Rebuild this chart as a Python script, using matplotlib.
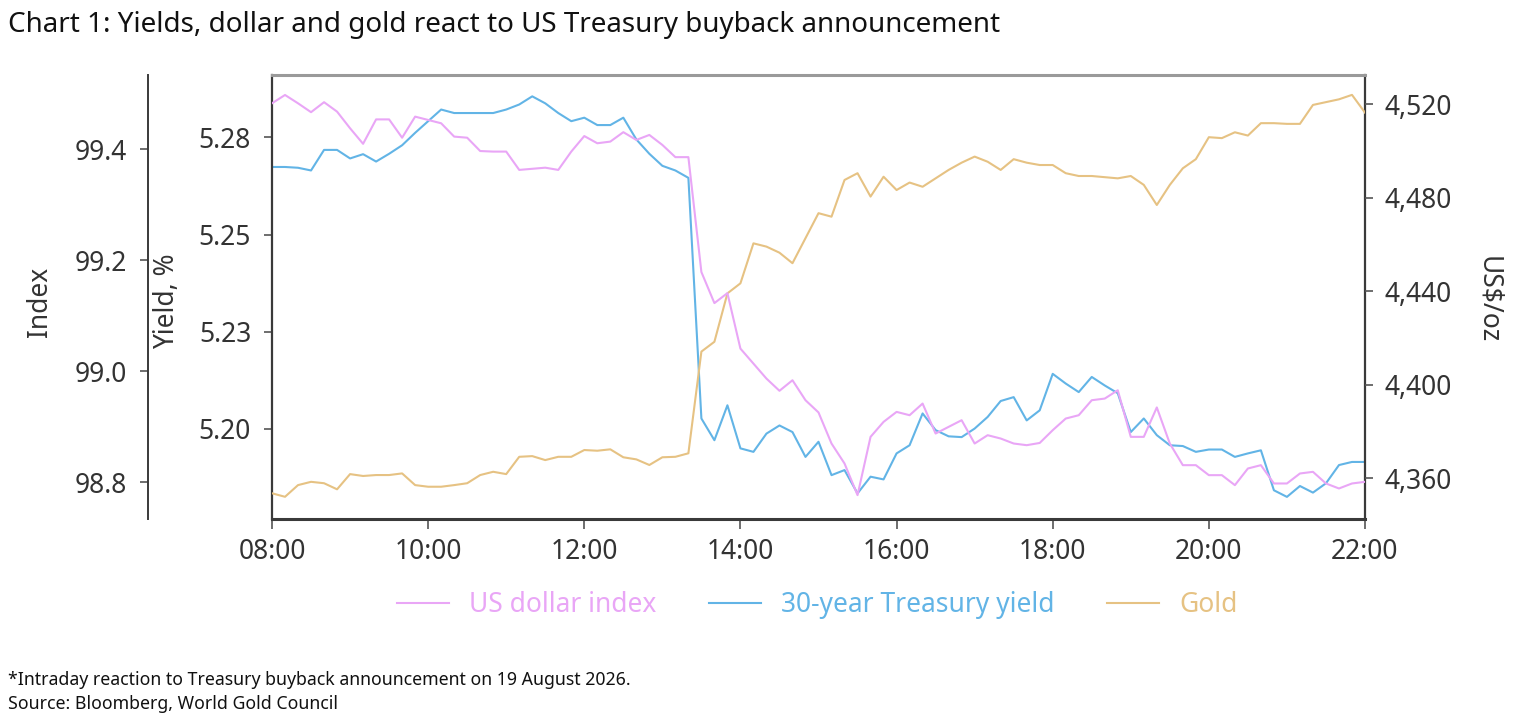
import matplotlib
matplotlib.use("Agg")
import matplotlib.pyplot as plt
import matplotlib.dates as mdates
import pandas as pd

plt.rcParams["font.family"] = ["Noto Sans", "DejaVu Sans"]

# ----- data (10-minute intraday, 19 Aug 2026) -----
times = pd.date_range("2026-08-19 08:00", "2026-08-19 22:00", freq="10min")

dollar_index = [
    99.483, 99.498, 99.483, 99.467, 99.485, 99.468, 99.438, 99.410, 99.454, 99.454,
    99.421, 99.459, 99.453, 99.447, 99.423, 99.421, 99.397, 99.396, 99.396, 99.363,
    99.365, 99.367, 99.363, 99.396, 99.424, 99.411, 99.414, 99.431, 99.417, 99.426,
    99.408, 99.386, 99.386, 99.179, 99.123, 99.141, 99.041, 99.014, 98.987, 98.965,
    98.984, 98.948, 98.926, 98.870, 98.834, 98.777, 98.882, 98.909, 98.927, 98.921,
    98.942, 98.888, 98.900, 98.912, 98.870, 98.885, 98.879, 98.870, 98.867, 98.871,
    98.894, 98.915, 98.921, 98.948, 98.951, 98.966, 98.882, 98.882, 98.935, 98.870,
    98.831, 98.831, 98.813, 98.813, 98.795, 98.825, 98.831, 98.798, 98.798, 98.816,
    98.819, 98.798, 98.789, 98.798, 98.801,
]

yield_30y = [
    5.2674, 5.2674, 5.2672, 5.2665, 5.2718, 5.2718, 5.2696, 5.2707, 5.2688, 5.2708,
    5.2730, 5.2762, 5.2792, 5.2822, 5.2813, 5.2813, 5.2813, 5.2813, 5.2822, 5.2835,
    5.2856, 5.2838, 5.2813, 5.2792, 5.2801, 5.2782, 5.2782, 5.2801, 5.2745, 5.2708,
    5.2677, 5.2665, 5.2646, 5.2026, 5.1970, 5.2060, 5.1949, 5.1940, 5.1987, 5.2008,
    5.1991, 5.1927, 5.1966, 5.1880, 5.1893, 5.1833, 5.1876, 5.1869, 5.1936, 5.1957,
    5.2039, 5.1996, 5.1980, 5.1978, 5.2000, 5.2030, 5.2071, 5.2081, 5.2021, 5.2047,
    5.2141, 5.2116, 5.2094, 5.2133, 5.2111, 5.2091, 5.1991, 5.2026, 5.1983, 5.1957,
    5.1955, 5.1940, 5.1946, 5.1946, 5.1927, 5.1936, 5.1944, 5.1841, 5.1824, 5.1852,
    5.1835, 5.1859, 5.1906, 5.1914, 5.1914,
]

gold = [
    4353.6, 4352.1, 4357.1, 4358.5, 4357.9, 4355.3, 4361.8, 4361.0, 4361.4, 4361.4,
    4362.1, 4357.1, 4356.4, 4356.4, 4357.1, 4357.9, 4361.4, 4362.8, 4361.8, 4369.2,
    4369.5, 4367.8, 4369.2, 4369.2, 4372.1, 4371.8, 4372.4, 4369.0, 4368.1, 4365.7,
    4369.0, 4369.2, 4370.7, 4414.2, 4418.4, 4439.1, 4443.4, 4460.5, 4459.1, 4456.5,
    4452.0, 4462.7, 4473.4, 4471.9, 4487.6, 4490.5, 4480.5, 4489.0, 4483.3, 4486.5,
    4484.7, 4488.3, 4491.9, 4495.0, 4497.6, 4495.4, 4491.9, 4496.5, 4495.0, 4494.0,
    4494.0, 4490.5, 4489.3, 4489.3, 4488.8, 4488.3, 4489.3, 4485.5, 4476.9, 4485.5,
    4492.6, 4496.5, 4505.9, 4505.5, 4508.0, 4506.6, 4511.9, 4511.9, 4511.6, 4511.6,
    4519.7, 4520.9, 4522.1, 4524.0, 4516.4,
]

series_names = ["US dollar index", "30-year Treasury yield", "Gold"]

index_ticks = [98.8, 99.0, 99.2, 99.4]
yield_ticks = [5.20, 5.225, 5.25, 5.275]
yield_tick_labels = ["5.20", "5.23", "5.25", "5.28"]
gold_ticks = [4360, 4400, 4440, 4480, 4520]

# ----- style -----
PINK = "#E9A6F6"
BLUE = "#62B4E6"
GOLD = "#E6C283"
DARK = "#3A3A3A"
TEXT = "#333333"
FS = 19

fig = plt.figure(figsize=(15.34, 7.26), dpi=100)
fig.patch.set_facecolor("white")

# host axis: yield on the inner left spine
ax_y = fig.add_axes([272 / 1534, 1 - 519 / 726, 1093 / 1534, 444 / 726])
ax_g = ax_y.twinx()   # gold, right
ax_i = ax_y.twinx()   # dollar index, outer left

l1, = ax_i.plot(times, dollar_index, color=PINK, lw=1.5)
l2, = ax_y.plot(times, yield_30y, color=BLUE, lw=1.5)
l3, = ax_g.plot(times, gold, color=GOLD, lw=1.5)

ax_y.set_xlim(times[0], times[-1])
ax_y.set_ylim(5.1767, 5.2911)
ax_i.set_ylim(98.734, 99.534)
ax_g.set_ylim(4342.6, 4532.5)

ax_y.set_yticks(yield_ticks, labels=yield_tick_labels)
ax_i.set_yticks(index_ticks, labels=[f"{v:.1f}" for v in index_ticks])
ax_g.set_yticks(gold_ticks, labels=[f"{v:,}" for v in gold_ticks])

ax_y.xaxis.set_major_locator(mdates.HourLocator(byhour=range(8, 23, 2)))
ax_y.xaxis.set_major_formatter(mdates.DateFormatter("%H:%M"))

# spines
for a in (ax_g, ax_i):
    for s in a.spines.values():
        s.set_visible(False)
ax_y.spines["top"].set_color("#9A9A9A")
ax_y.spines["top"].set_linewidth(2.2)
ax_y.spines["bottom"].set_color(DARK)
ax_y.spines["bottom"].set_linewidth(2.2)
ax_y.spines["left"].set_color(DARK)
ax_y.spines["left"].set_linewidth(1.6)
ax_y.spines["right"].set_color(DARK)
ax_y.spines["right"].set_linewidth(1.6)

ax_i.spines["left"].set_visible(True)
ax_i.spines["left"].set_position(("outward", 124 * 0.72))
ax_i.spines["left"].set_color(DARK)
ax_i.spines["left"].set_linewidth(1.4)
ax_i.yaxis.tick_left()

tick_kw = dict(length=6, width=1.2, color="#555555", labelsize=FS, labelcolor=TEXT)
ax_y.tick_params(axis="y", pad=9, **tick_kw)
ax_i.tick_params(axis="y", pad=9, **tick_kw)
ax_g.tick_params(axis="y", pad=8, **tick_kw)
ax_y.tick_params(axis="x", length=7, width=1.2, color="#555555",
                 labelsize=FS, labelcolor=TEXT, pad=7)

# axis titles
fig.text(40 / 1534, 1 - 302 / 726, "Index", rotation=90, ha="center", va="center",
         fontsize=FS, color=TEXT)
fig.text(167 / 1534, 1 - 301 / 726, "Yield, %", rotation=90, ha="center", va="center",
         fontsize=FS, color=TEXT)
fig.text(1488 / 1534, 1 - 300 / 726, "US$/oz", rotation=270, ha="center", va="center",
         fontsize=FS, color=TEXT)

# legend with coloured text
leg = fig.legend([l1, l2, l3], series_names, loc="center", ncol=3,
                 bbox_to_anchor=(817 / 1534, 1 - 605 / 726), frameon=False,
                 fontsize=FS, handlelength=1.97, handletextpad=0.76, columnspacing=2.0)
for txt, c in zip(leg.get_texts(), [PINK, BLUE, GOLD]):
    txt.set_color(c)

# title and notes
fig.text(8 / 1534, 1 - 25 / 726, "Chart 1: Yields, dollar and gold react to US Treasury buyback announcement",
         ha="left", va="center", fontsize=20, color="#111111", fontweight="medium")
fig.text(8 / 1534, 1 - 680 / 726,
         "*Intraday reaction to Treasury buyback announcement on 19 August 2026.",
         ha="left", va="center", fontsize=12.75, color="#111111")
fig.text(8 / 1534, 1 - 704 / 726, "Source: Bloomberg, World Gold Council",
         ha="left", va="center", fontsize=12.75, color="#111111")

fig.savefig("out.png", dpi=100, facecolor="white")
